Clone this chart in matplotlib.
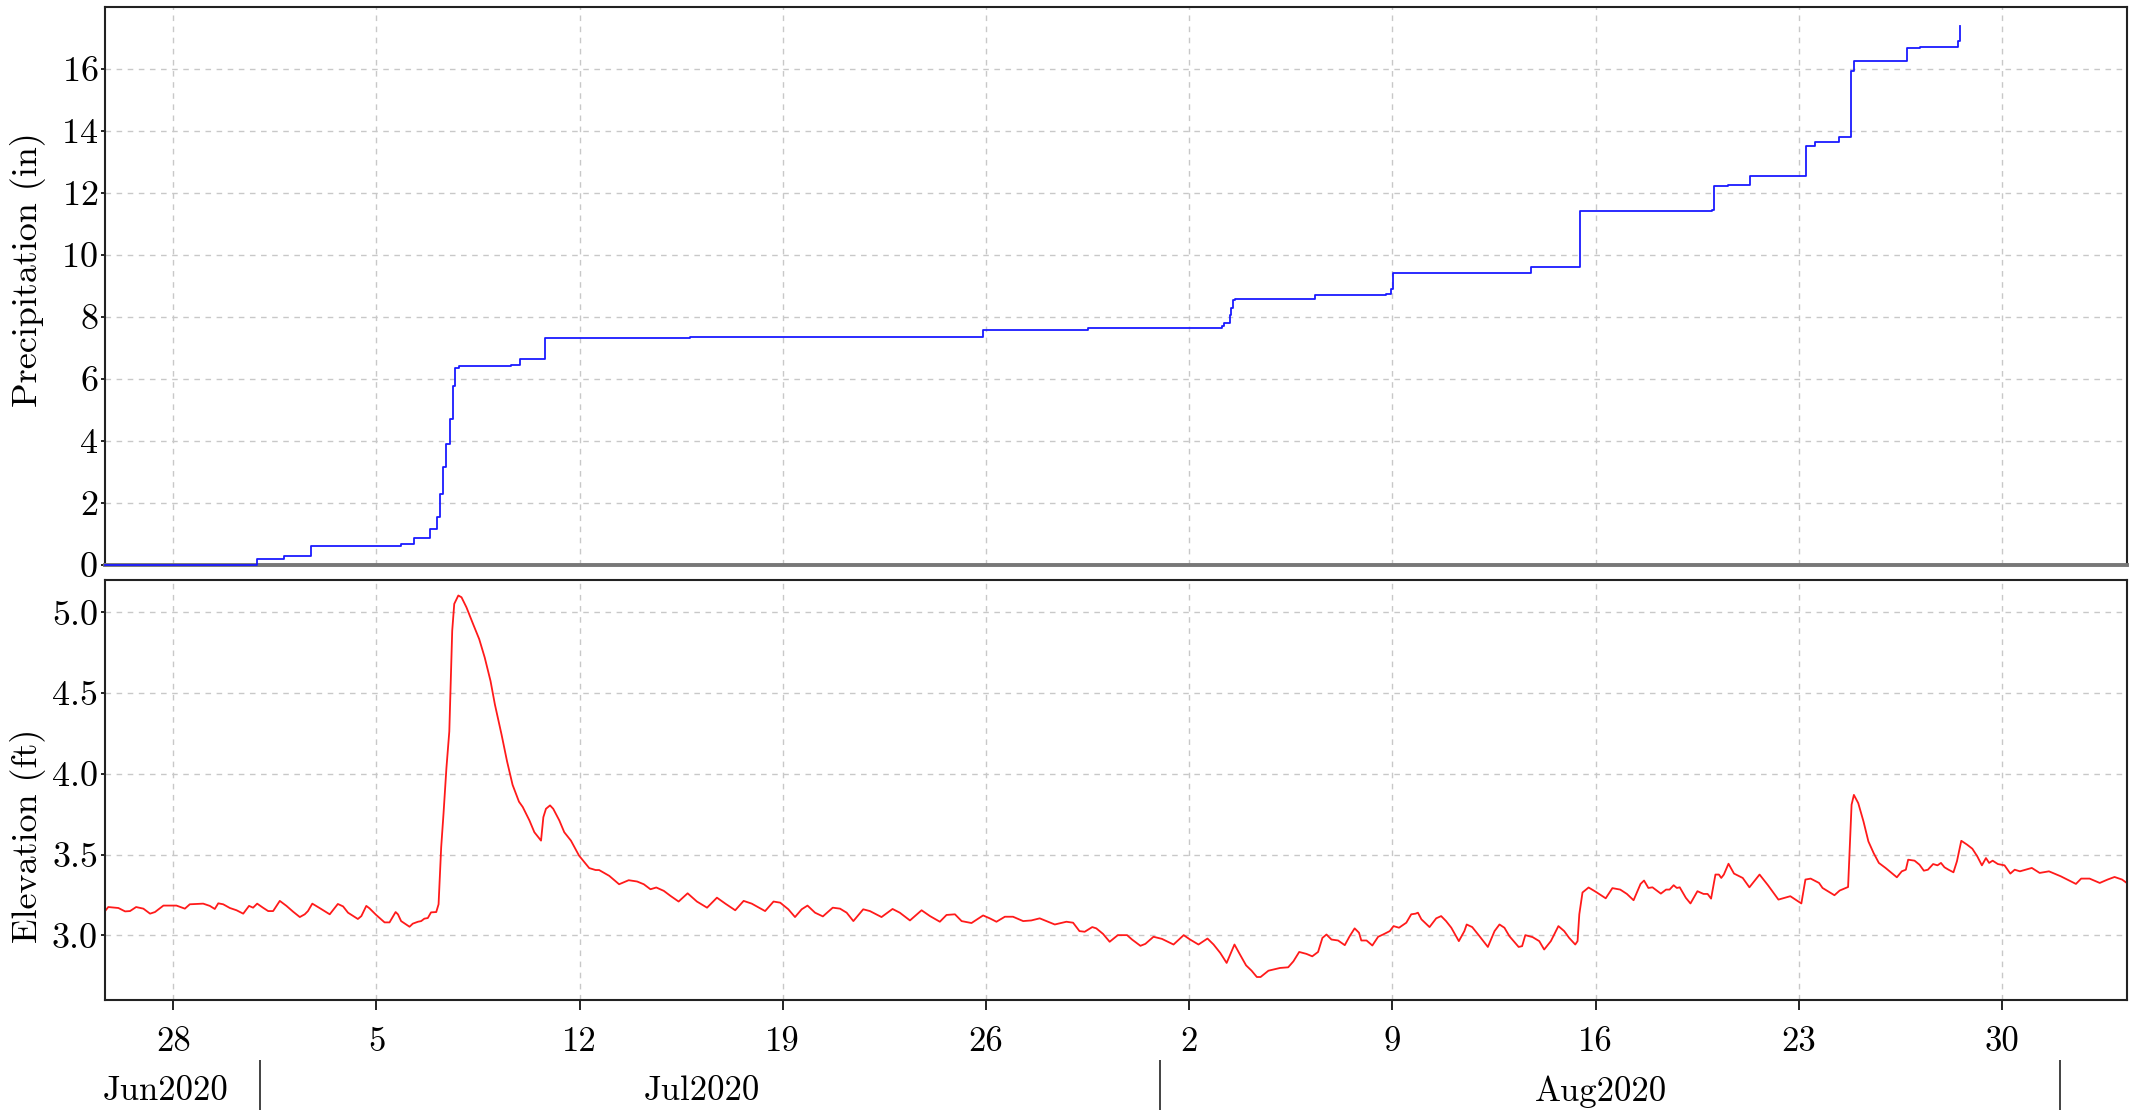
import numpy as np
import matplotlib
matplotlib.use("Agg")
import matplotlib.pyplot as plt
import matplotlib.dates as mdates
from matplotlib.ticker import FuncFormatter, FormatStrFormatter

plt.rcParams['font.family'] = ['cmr10', 'DejaVu Serif']
plt.rcParams['mathtext.fontset'] = 'cm'
plt.rcParams['axes.formatter.use_mathtext'] = True

BASE = np.datetime64('2020-06-28T00:00')

# cumulative precipitation, days since 2020-06-28 and inches (step changes)
precip_day = [-2.35, 2.9, 3.82, 4.75, 7.86, 8.28, 8.86, 9.09, 9.2, 9.29, 9.4, 9.55, 9.63,
              9.7, 9.86, 11.63, 11.94, 12.8, 17.8, 27.91, 31.53, 36.14, 36.2, 36.4, 36.45,
              36.5, 36.58, 39.32, 41.78, 41.96, 42.02, 46.78, 48.45, 53.02, 53.07, 53.58,
              54.32, 56.24, 56.56, 57.4, 57.79, 57.8, 57.9, 59.74, 60.17, 61.5, 61.54]
precip_in = [0.0, 0.18, 0.30, 0.60, 0.67, 0.87, 1.15, 1.55, 2.3, 3.15, 3.9, 4.7, 5.77,
             6.37, 6.42, 6.45, 6.64, 7.32, 7.35, 7.59, 7.63, 7.71, 7.8, 8.06, 8.28,
             8.54, 8.57, 8.72, 8.75, 8.91, 9.41, 9.62, 11.42, 11.46, 12.24, 12.27,
             12.56, 13.52, 13.63, 13.81, 14.1, 15.93, 16.25, 16.67, 16.71, 16.9, 17.38]

# water elevation, days since 2020-06-28 and feet
elev_day = [-2.35, -2.24, -1.89, -1.66, -1.49, -1.28, -1.03, -0.80, -0.63, -0.34, 0.11, 0.40,
            0.57, 1.03, 1.26, 1.43, 1.55, 1.72, 1.95, 2.18, 2.41, 2.61, 2.75, 2.89, 3.09,
            3.27, 3.44, 3.67, 3.90, 4.13, 4.36, 4.53, 4.64, 4.79, 5.04, 5.39, 5.67, 5.85,
            6.02, 6.36, 6.48, 6.65, 6.76, 6.99, 7.28, 7.45, 7.66, 7.74, 7.85, 8.14, 8.25,
            8.43, 8.54, 8.65, 8.77, 8.88, 9.06, 9.14, 9.23, 9.31, 9.41, 9.51, 9.55, 9.61,
            9.68, 9.82, 9.93, 10.10, 10.33, 10.54, 10.73, 10.93, 11.08, 11.31, 11.50, 11.69,
            11.91, 12.04, 12.27, 12.44, 12.67, 12.75, 12.84, 12.98, 13.09, 13.30, 13.47,
            13.70, 13.98, 14.33, 14.55, 14.67, 15.02, 15.36, 15.69, 15.98, 16.21, 16.44,
            16.64, 16.90, 17.13, 17.41, 17.72, 18.04, 18.39, 18.73, 19.02, 19.36, 19.65,
            19.93, 20.39, 20.68, 20.91, 21.19, 21.42, 21.65, 21.85, 22.11, 22.38, 22.72,
            22.97, 23.20, 23.43, 23.77, 24.00, 24.40, 24.78, 25.03, 25.38, 25.78, 26.07,
            26.41, 26.64, 26.93, 27.16, 27.50, 27.90, 28.13, 28.36, 28.65, 28.93, 29.28,
            29.56, 29.85, 30.08, 30.37, 30.77, 31.00, 31.22, 31.40, 31.66, 31.80, 32.03,
            32.26, 32.54, 32.86, 33.03, 33.32, 33.49, 33.77, 34.06, 34.46, 34.81, 35.03,
            35.32, 35.63, 35.84, 36.07, 36.29, 36.56, 36.75, 36.96, 37.15, 37.33, 37.46,
            37.73, 38.13, 38.41, 38.59, 38.79, 39.04, 39.24, 39.44, 39.59, 39.73, 39.90,
            40.13, 40.36, 40.53, 40.70, 40.85, 40.93, 41.11, 41.31, 41.51, 41.68, 41.91,
            42.04, 42.23, 42.48, 42.65, 42.80, 42.88, 43.00, 43.28, 43.51, 43.68, 43.85,
            44.03, 44.29, 44.48, 44.56, 44.75, 45.00, 45.29, 45.52, 45.69, 45.86, 46.03,
            46.35, 46.47, 46.58, 46.83, 47.06, 47.23, 47.46, 47.72, 47.92, 48.09, 48.30,
            48.38, 48.44, 48.55, 48.76, 49.01, 49.35, 49.58, 49.85, 50.08, 50.31, 50.55,
            50.67, 50.82, 50.96, 51.25, 51.43, 51.55, 51.69, 51.80, 51.90, 52.11, 52.27,
            52.51, 52.72, 52.86, 52.98, 53.13, 53.25, 53.33, 53.42, 53.58, 53.77, 54.07,
            54.30, 54.65, 54.94, 55.30, 55.71, 56.09, 56.23, 56.41, 56.70, 56.82, 57.23,
            57.41, 57.70, 57.76, 57.82, 57.90, 58.05, 58.23, 58.40, 58.58, 58.76, 58.99,
            59.38, 59.55, 59.69, 59.77, 59.99, 60.16, 60.31, 60.45, 60.63, 60.78, 60.90,
            61.02, 61.16, 61.33, 61.45, 61.60, 61.80, 61.98, 62.15, 62.31, 62.45, 62.56,
            62.68, 62.86, 63.09, 63.29, 63.44, 63.62, 64.03, 64.30, 64.62, 65.03, 65.55,
            65.73, 66.02, 66.37, 66.64, 66.88, 67.14, 67.30]
elev_ft = [3.151, 3.176, 3.17, 3.149, 3.151, 3.176, 3.166, 3.135, 3.145, 3.185, 3.185, 3.166,
           3.193, 3.197, 3.183, 3.164, 3.199, 3.193, 3.17, 3.156, 3.135, 3.183, 3.172, 3.197, 3.172,
           3.151, 3.151, 3.214, 3.183, 3.147, 3.114, 3.131, 3.151, 3.197, 3.17, 3.131, 3.195, 3.18,
           3.141, 3.102, 3.12, 3.183, 3.168, 3.127, 3.081, 3.081, 3.145, 3.131, 3.089, 3.054, 3.073,
           3.085, 3.089, 3.104, 3.108, 3.143, 3.145, 3.193, 3.546, 3.753, 4.035, 4.263, 4.51, 4.886,
           5.052, 5.104, 5.093, 5.031, 4.927, 4.834, 4.72, 4.575, 4.43, 4.243, 4.077, 3.932,
           3.828, 3.795, 3.712, 3.639, 3.587, 3.732, 3.784, 3.805, 3.784, 3.712, 3.639,
           3.587, 3.494, 3.417, 3.405, 3.405, 3.369, 3.317, 3.342, 3.334, 3.317, 3.286,
           3.297, 3.276, 3.245, 3.21, 3.261, 3.21, 3.172, 3.234, 3.197, 3.156, 3.214,
           3.197, 3.151, 3.21, 3.203, 3.162, 3.114, 3.162, 3.185, 3.141, 3.118, 3.172,
           3.166, 3.141, 3.089, 3.162, 3.151, 3.114, 3.164, 3.141, 3.093, 3.156, 3.12,
           3.085, 3.127, 3.131, 3.089, 3.077, 3.124, 3.106, 3.085, 3.116, 3.116, 3.089,
           3.093, 3.106, 3.089, 3.068, 3.085, 3.079, 3.027, 3.023, 3.052, 3.044, 3.01,
           2.961, 3.002, 3.002, 2.975, 2.936, 2.948, 2.992, 2.979, 2.944, 3.002, 2.975,
           2.944, 2.981, 2.944, 2.892, 2.83, 2.944, 2.882, 2.815, 2.782, 2.743, 2.743,
           2.782, 2.799, 2.803, 2.84, 2.898, 2.886, 2.871, 2.898, 2.985, 3.006, 2.975,
           2.969, 2.94, 2.996, 3.044, 3.017, 2.969, 2.969, 2.938, 2.992, 3.006, 3.027,
           3.058, 3.048, 3.079, 3.131, 3.135, 3.141, 3.1, 3.052, 3.106, 3.12, 3.089,
           3.048, 2.965, 3.027, 3.068, 3.052, 2.996, 2.929, 3.027, 3.068, 3.048, 2.996,
           2.929, 2.934, 3.002, 2.99, 2.965, 2.913, 2.965, 3.058, 3.027, 2.985, 2.944,
           2.965, 3.131, 3.266, 3.297, 3.27, 3.23, 3.293, 3.284, 3.257, 3.218, 3.319,
           3.34, 3.294, 3.298, 3.259, 3.284, 3.284, 3.311, 3.294, 3.298, 3.233, 3.198,
           3.274, 3.257, 3.257, 3.228, 3.377, 3.377, 3.356, 3.377, 3.444, 3.383, 3.356,
           3.298, 3.377, 3.311, 3.222, 3.243, 3.198, 3.346, 3.352, 3.325, 3.294, 3.249,
           3.278, 3.3, 3.562, 3.809, 3.87, 3.819, 3.706, 3.582, 3.51, 3.449, 3.418,
           3.36, 3.397, 3.407, 3.469, 3.463, 3.438, 3.401, 3.407, 3.442, 3.434, 3.449,
           3.422, 3.407, 3.391, 3.459, 3.586, 3.562, 3.537, 3.49, 3.434, 3.479, 3.449,
           3.463, 3.442, 3.434, 3.383, 3.407, 3.397, 3.418, 3.387, 3.397, 3.366, 3.319,
           3.352, 3.352, 3.325, 3.346, 3.362, 3.346, 3.325]

x_range = [-2.35, 67.3]
month_starts = ['2020-07-01', '2020-08-01', '2020-09-01']
month_names = ['Jun2020', 'Jul2020', 'Aug2020']
month_label_day = [-0.25, 18.2, 49.2]  # where the month names sit


def to_dates(days):
    return BASE + (np.array(days) * 86400).astype('timedelta64[s]')


precip_t = to_dates(precip_day)
elev_t = to_dates(elev_day)
xlim = to_dates(x_range)

fig = plt.figure(figsize=(21.31, 11.10), dpi=100)
ax1 = fig.add_axes([0.0493, 0.491, 0.9487, 0.5027])
ax2 = fig.add_axes([0.0493, 0.099, 0.9487, 0.3785], sharex=ax1)

grid_kw = dict(color='#c8c8c8', linestyle=(0, (4, 4)), linewidth=1.0)
fs = 25

for ax in (ax1, ax2):
    ax.grid(True, **grid_kw)
    ax.set_axisbelow(True)
    for s in ax.spines.values():
        s.set_color('#222222')
        s.set_linewidth(1.5)
    ax.tick_params(axis='y', direction='out', length=3, width=1.2, pad=2, labelsize=26)

ax1.plot(precip_t, precip_in, color='#1a1aff', lw=1.3, drawstyle='steps-post',
         zorder=4, clip_on=False)
ax1.set_ylim(0, 18)
ax1.set_yticks(np.arange(0, 17, 2))
ax1.set_ylabel('Precipitation (in)', fontsize=26)
ax1.yaxis.set_label_coords(-0.029, 0.529)
ax1.tick_params(axis='x', bottom=False, labelbottom=False)
ax1.spines['bottom'].set_color('#777777')
ax1.spines['bottom'].set_linewidth(2.8)

ax2.plot(elev_t, elev_ft, color='#ff1a1a', lw=1.3)
ax2.set_ylim(2.6, 5.2)
ax2.set_yticks([3.0, 3.5, 4.0, 4.5, 5.0])
ax2.yaxis.set_major_formatter(FormatStrFormatter('%.1f'))
ax2.set_ylabel('Elevation (ft)', fontsize=26)
ax2.yaxis.set_label_coords(-0.029, 0.39)

ax2.set_xlim(xlim[0], xlim[1])
ax2.xaxis.set_major_locator(mdates.WeekdayLocator(byweekday=mdates.SU))
ax2.xaxis.set_major_formatter(FuncFormatter(lambda v, p: str(mdates.num2date(v).day)))
ax2.tick_params(axis='x', direction='out', length=7, width=1.2, pad=12, labelsize=fs)

# month band below the day labels
centers = mdates.date2num(to_dates(month_label_day))

sec = ax2.secondary_xaxis(-0.143)
sec.spines['bottom'].set_visible(False)
sec.set_xticks([mdates.date2num(np.datetime64(m)) for m in month_starts])
sec.set_xticklabels(['', '', ''])
sec.set_xticks(centers, minor=True)
sec.set_xticklabels(month_names, minor=True)
sec.tick_params(axis='x', which='major', direction='out', length=38, width=1.2, color='#222222')
sec.tick_params(axis='x', which='minor', length=0, pad=11, labelsize=fs)

fig.savefig('out.png', dpi=100)
